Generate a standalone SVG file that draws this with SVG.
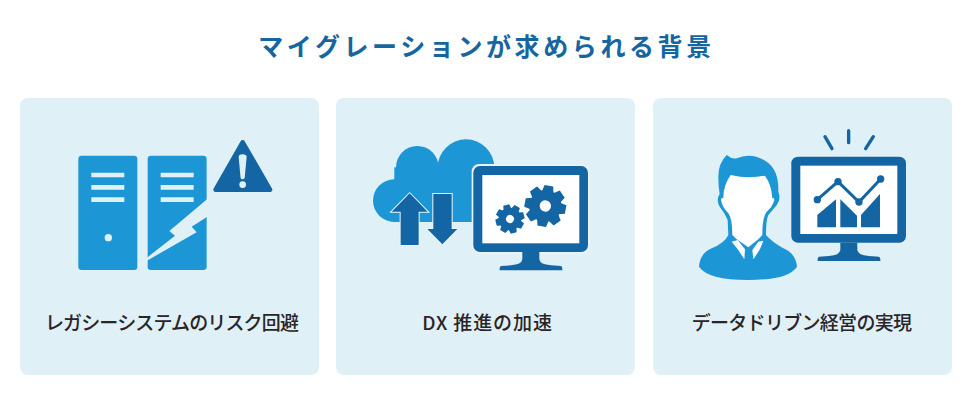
<svg xmlns="http://www.w3.org/2000/svg" width="970" height="400" viewBox="0 0 970 400">
<style>
.card{fill:#dff0f6}
.t{font-family:"Noto Sans CJK JP","Noto Sans",sans-serif;text-anchor:middle}
.title{font-size:25px;font-weight:700;fill:#1565a1;letter-spacing:3.6px}
.label{font-size:19px;font-weight:500;fill:#2a2426}
.b{fill:#1c96d5}
.d{fill:#1465a3}
.w{fill:#fff}
.bg{fill:#dff0f6}
</style>
<defs>
<g id="monitor">
<rect x="-1" y="0" width="344" height="258" rx="20" class="d"/>
<rect x="26" y="27" width="291" height="205" class="w"/>
<path class="d" d="M146 258H197V280Q199 296 232 298L262 300Q267 301 266 313H78Q77 301 82 300L112 298Q144 296 146 280Z"/>
</g>
<path id="tooth" class="d" d="M-13 -62H13L18 -40H-18Z"/>
<g id="gear">
<circle r="48" class="d"/>
<use href="#tooth"/>
<use href="#tooth" transform="rotate(45)"/>
<use href="#tooth" transform="rotate(90)"/>
<use href="#tooth" transform="rotate(135)"/>
<use href="#tooth" transform="rotate(180)"/>
<use href="#tooth" transform="rotate(225)"/>
<use href="#tooth" transform="rotate(270)"/>
<use href="#tooth" transform="rotate(315)"/>
<circle r="17" class="w"/>
</g>
</defs>
<rect width="970" height="400" fill="#fff"/>
<g id="title"><text class="t title" x="486.5" y="56">マイグレーションが求められる背景</text></g>
<g id="card-1">
<rect class="card" x="20" y="98" width="299" height="277" rx="8"/>
<g transform="translate(60 125) scale(.3333)">
<rect class="b" x="55" y="92" width="177" height="343" rx="10"/>
<rect class="b" x="263" y="92" width="177" height="343" rx="10"/>
<path class="bg" d="M94 143h99v14H94zM94 180h99v14H94zM94 217h99v14H94zM302 143h99v14H302zM302 180h99v14H302zM302 217h99v14H302z"/>
<circle class="bg" cx="145" cy="338" r="11"/>
<path class="bg" d="M442 222L328 318L345 332L261 398V407L410 322L395 305L442 275Z"/>
<path class="d" d="M548 52L630 194H467Z" stroke="#1465a3" stroke-width="14" stroke-linejoin="round"/>
<path class="bg" d="M536 96Q536 88 548 88Q560 88 560 96L554 160Q548 166 542 160Z"/>
<circle class="bg" cx="548" cy="179" r="10"/>
</g>
<text class="t label" x="171.5" y="330" letter-spacing="-.85">レガシーシステムのリスク回避</text>
</g>
<g id="card-2">
<rect class="card" x="336" y="98" width="299" height="277" rx="8"/>
<g transform="translate(360 130) scale(.3333)">
<circle class="b" cx="103" cy="212" r="64"/>
<circle class="b" cx="172" cy="112" r="64"/>
<circle class="b" cx="318" cy="113" r="85"/>
<rect class="b" x="103" y="112" width="300" height="164"/>
<rect x="335" y="102" width="355" height="270" rx="22" fill="#e6f4f9"/>
<g transform="translate(341 108)"><use href="#monitor"/></g>
<path class="d" stroke="#eaf6fb" stroke-width="6" d="M149 190L203 245H176V345H122V245H95Z" paint-order="stroke"/>
<path class="d" stroke="#eaf6fb" stroke-width="6" d="M220 192H275V297H292L247 343L202 297H220Z" paint-order="stroke"/>
<use href="#gear" transform="translate(556 228) rotate(10)"/>
<use href="#gear" transform="translate(450 267) rotate(30) scale(.7)"/>
</g>
<text class="t label" x="487.5" y="330" letter-spacing=".9">DX 推進の加速</text>
</g>
<g id="card-3">
<rect class="card" x="653" y="98" width="299" height="277" rx="8"/>
<g transform="translate(685 120) scale(.3333)">
<path class="b" d="M100 170Q100 130 125 105Q140 118 155 115Q200 95 245 125Q282 150 280 215Q290 240 270 262L250 285Q243 300 243 345Q260 365 295 385Q332 400 336 440Q310 480 190 480Q70 480 42 440Q45 400 80 385Q118 370 130 345L128 300Q120 280 105 262Q92 240 104 222Q100 200 100 170Z"/>
<path class="w" d="M137 165Q190 178 240 167Q260 195 262 235Q268 232 268 240Q262 262 245 275Q232 290 232 345L220 358L190 382L155 358L142 345Q142 295 130 280Q112 262 108 240Q108 232 115 235Q115 195 137 165Z"/>
<path class="w" d="M140 365L158 360L180 388L178 418L160 390ZM235 362L220 365L202 390L205 418L225 388Z"/>
<use href="#monitor" x="320" y="110"/>
<path stroke="#1465a3" stroke-width="10" stroke-linecap="round" fill="none" d="M491 32V68M420 50L441 86M565 50L542 86"/>
<path class="d" d="M397 322V285L453 238V322ZM466 238L516 287V322H466ZM528 322V285L585 222V322Z"/>
<path stroke="#1465a3" stroke-width="9" fill="none" d="M397 239L459 185L522 246L587 177"/>
<circle class="d" cx="397" cy="239" r="11"/><circle class="d" cx="459" cy="185" r="11"/><circle class="d" cx="522" cy="246" r="11"/><circle class="d" cx="587" cy="177" r="11"/>
</g>
<text class="t label" x="801.5" y="330" letter-spacing="-.7">データドリブン経営の実現</text>
</g>
</svg>
